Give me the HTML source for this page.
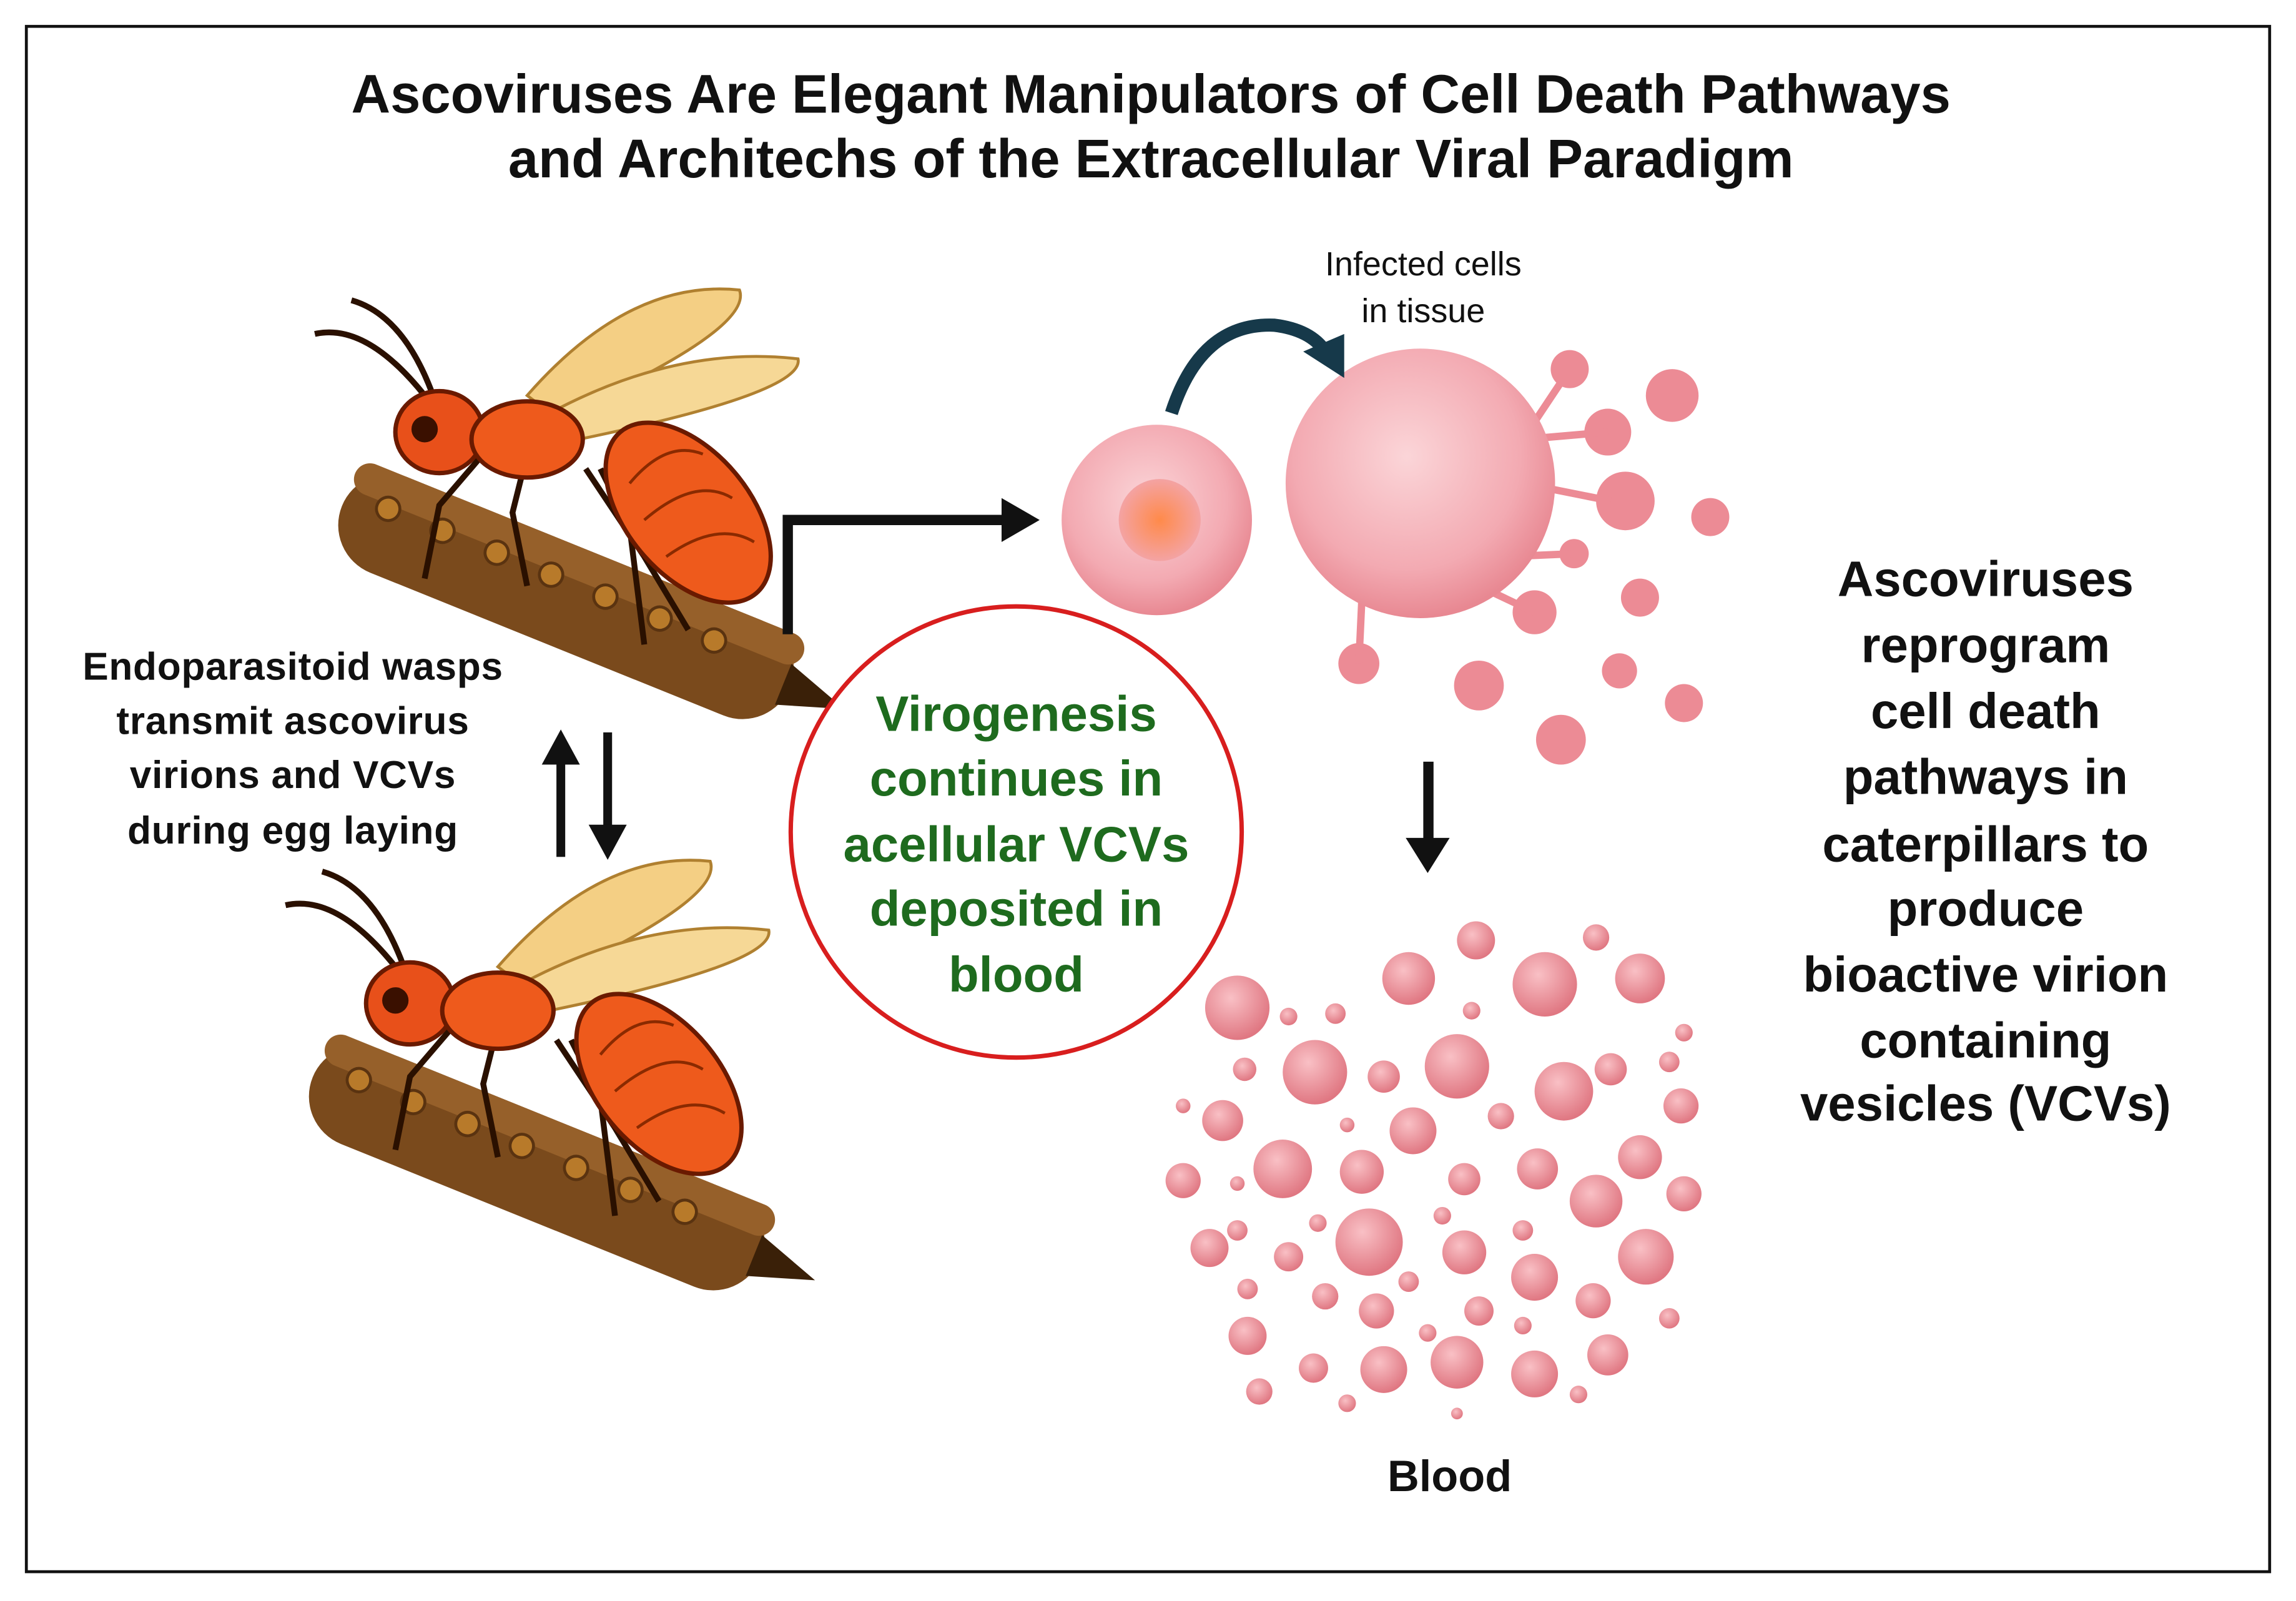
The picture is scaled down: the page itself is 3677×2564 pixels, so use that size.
<!DOCTYPE html>
<html><head><meta charset="utf-8"><style>
html,body{margin:0;padding:0;background:#fff;width:3677px;height:2564px;overflow:hidden}
svg{display:block}
text{font-family:"Liberation Sans",sans-serif;font-weight:bold}
</style></head><body>
<svg width="3677" height="2564" viewBox="0 0 1568 1093" preserveAspectRatio="none" xmlns="http://www.w3.org/2000/svg">
<defs>
<radialGradient id="cell" cx="45%" cy="40%" r="60%"><stop offset="0" stop-color="#fbd5d8"/><stop offset="0.7" stop-color="#f3aab2"/><stop offset="1" stop-color="#e88892"/></radialGradient>
<radialGradient id="nuc" cx="50%" cy="50%" r="50%"><stop offset="0" stop-color="#ff8a4a"/><stop offset="1" stop-color="#f4a3a3"/></radialGradient>
<radialGradient id="dot" cx="40%" cy="35%" r="65%"><stop offset="0" stop-color="#f9c0c5"/><stop offset="1" stop-color="#e07782"/></radialGradient>
<g id="wasp">
 <g transform="rotate(22 380 410)">
  <rect x="220" y="370" width="330" height="70" rx="35" fill="#7a4a1c"/>
  <rect x="220" y="370" width="330" height="22" rx="11" fill="#96602a"/>
  <g fill="#b87a2a" stroke="#5a3310" stroke-width="2">
   <circle cx="250" cy="395" r="8"/><circle cx="290" cy="395" r="8"/><circle cx="330" cy="395" r="8"/><circle cx="370" cy="395" r="8"/><circle cx="410" cy="395" r="8"/><circle cx="450" cy="395" r="8"/><circle cx="490" cy="395" r="8"/>
  </g>
  <polygon points="545,390 590,405 545,420" fill="#3a2008"/>
 </g>
 <path d="M360 270 Q430 190 505 198 Q515 225 380 285Z" fill="#f4cf84" stroke="#b08030" stroke-width="2"/>
 <path d="M370 285 Q460 235 545 245 Q550 268 395 300Z" fill="#f6d896" stroke="#b08030" stroke-width="2"/>
 <g stroke="#2a1000" stroke-width="4" fill="none">
  <path d="M330 310 L300 345 L290 395"/><path d="M360 310 L350 350 L360 400"/><path d="M400 320 L440 380 L470 430"/><path d="M410 320 L430 360 L440 440"/>
 </g>
 <path d="M290 270 Q250 220 215 228 M295 268 Q275 215 240 205" stroke="#2a1000" stroke-width="4" fill="none"/>
 <ellipse cx="300" cy="295" rx="30" ry="28" fill="#e8501a" stroke="#6a1a00" stroke-width="3"/>
 <circle cx="290" cy="293" r="9" fill="#3a1000"/>
 <ellipse cx="360" cy="300" rx="38" ry="26" fill="#ee5a1c" stroke="#6a1a00" stroke-width="3"/>
 <ellipse cx="470" cy="350" rx="42" ry="72" transform="rotate(-40 470 350)" fill="#ee5a1c" stroke="#6a1a00" stroke-width="3"/>
 <g stroke="#8a2a00" stroke-width="2" fill="none">
  <path d="M430 330 Q455 300 480 310"/><path d="M440 355 Q475 325 500 340"/><path d="M455 380 Q490 355 515 370"/>
 </g>
</g>
</defs>
<rect width="1568" height="1093" fill="#fff"/>
<rect x="18" y="18" width="1532" height="1055" fill="none" stroke="#111" stroke-width="2"/>
<text x="786" y="77" font-size="37" text-anchor="middle" fill="#111">Ascoviruses Are Elegant Manipulators of Cell Death Pathways</text>
<text x="786" y="121" font-size="37" text-anchor="middle" fill="#111">and Architechs of the Extracellular Viral Paradigm</text>

<use href="#wasp"/>
<use href="#wasp" transform="translate(-20 390)"/>

<g font-size="26.5" text-anchor="middle" fill="#111" letter-spacing="0.3">
<text x="200" y="464">Endoparasitoid wasps</text>
<text x="200" y="501">transmit ascovirus</text>
<text x="200" y="538">virions and VCVs</text>
<text x="200" y="576">during egg laying</text>
</g>
<rect x="380" y="520" width="6" height="65" fill="#111"/><polygon points="370,522 396,522 383,498" fill="#111"/>
<rect x="412" y="500" width="6" height="65" fill="#111"/><polygon points="402,563 428,563 415,587" fill="#111"/>
<path d="M538 433 L538 355 L690 355" stroke="#111" stroke-width="7" fill="none"/>
<polygon points="684,340 710,355 684,370" fill="#111"/>

<circle cx="694" cy="568" r="154" fill="#fff" stroke="#d81e1e" stroke-width="3"/>
<g font-size="34" text-anchor="middle" fill="#1e6b1e">
<text x="694" y="499">Virogenesis</text>
<text x="694" y="543">continues in</text>
<text x="694" y="588">acellular VCVs</text>
<text x="694" y="632">deposited in</text>
<text x="694" y="677">blood</text>
</g>

<circle cx="790" cy="355" r="65" fill="url(#cell)"/>
<circle cx="792" cy="355" r="28" fill="url(#nuc)"/>
<g fill="#ec8b95">
<circle cx="1072" cy="252" r="13"/><circle cx="1142" cy="270" r="18"/><circle cx="1098" cy="295" r="16"/><circle cx="1110" cy="342" r="20"/>
<circle cx="1168" cy="353" r="13"/><circle cx="1075" cy="378" r="10"/><circle cx="1120" cy="408" r="13"/><circle cx="1048" cy="418" r="15"/>
<circle cx="1106" cy="458" r="12"/><circle cx="1150" cy="480" r="13"/><circle cx="1010" cy="468" r="17"/><circle cx="1066" cy="505" r="17"/><circle cx="928" cy="453" r="14"/>
</g>
<g stroke="#ec8b95" stroke-width="5"><line x1="1040" y1="300" x2="1072" y2="252"/><line x1="1040" y1="330" x2="1100" y2="342"/><line x1="1030" y1="380" x2="1075" y2="378"/><line x1="1010" y1="400" x2="1048" y2="418"/><line x1="930" y1="410" x2="928" y2="453"/><line x1="1040" y1="300" x2="1098" y2="295"/></g>
<circle cx="970" cy="330" r="92" fill="url(#cell)"/>
<path d="M800 282 Q820 220 870 222 Q895 225 905 240" stroke="#16394a" stroke-width="9" fill="none"/>
<polygon points="890,240 918,258 918,228" fill="#16394a"/>
<g font-size="23" text-anchor="middle" fill="#111">
<text x="972" y="188" style="font-weight:normal">Infected cells</text>
<text x="972" y="220" style="font-weight:normal">in  tissue</text>
</g>
<rect x="972" y="520" width="7" height="55" fill="#111"/><polygon points="960,572 990,572 975,596" fill="#111"/>

<g fill="url(#dot)">
<circle cx="1008" cy="642" r="13"/><circle cx="1090" cy="640" r="9"/><circle cx="962" cy="668" r="18"/><circle cx="1055" cy="672" r="22"/><circle cx="1120" cy="668" r="17"/><circle cx="845" cy="688" r="22"/><circle cx="912" cy="692" r="7"/>
<circle cx="1005" cy="690" r="6"/><circle cx="880" cy="694" r="6"/><circle cx="1150" cy="705" r="6"/><circle cx="898" cy="732" r="22"/><circle cx="995" cy="728" r="22"/><circle cx="1100" cy="730" r="11"/><circle cx="945" cy="735" r="11"/><circle cx="850" cy="730" r="8"/><circle cx="1140" cy="725" r="7"/>
<circle cx="835" cy="765" r="14"/><circle cx="1068" cy="745" r="20"/><circle cx="965" cy="772" r="16"/><circle cx="1025" cy="762" r="9"/><circle cx="1148" cy="755" r="12"/><circle cx="808" cy="755" r="5"/><circle cx="920" cy="768" r="5"/>
<circle cx="808" cy="806" r="12"/><circle cx="876" cy="798" r="20"/><circle cx="930" cy="800" r="15"/><circle cx="1000" cy="805" r="11"/><circle cx="1050" cy="798" r="14"/><circle cx="1120" cy="790" r="15"/><circle cx="1150" cy="815" r="12"/><circle cx="845" cy="808" r="5"/>
<circle cx="845" cy="840" r="7"/><circle cx="935" cy="848" r="23"/><circle cx="1090" cy="820" r="18"/><circle cx="1040" cy="840" r="7"/><circle cx="985" cy="830" r="6"/><circle cx="900" cy="835" r="6"/>
<circle cx="826" cy="852" r="13"/><circle cx="880" cy="858" r="10"/><circle cx="1000" cy="855" r="15"/><circle cx="1048" cy="872" r="16"/><circle cx="1124" cy="858" r="19"/><circle cx="962" cy="875" r="7"/>
<circle cx="852" cy="880" r="7"/><circle cx="905" cy="885" r="9"/><circle cx="940" cy="895" r="12"/><circle cx="1010" cy="895" r="10"/><circle cx="1088" cy="888" r="12"/><circle cx="1140" cy="900" r="7"/>
<circle cx="852" cy="912" r="13"/><circle cx="897" cy="934" r="10"/><circle cx="945" cy="935" r="16"/><circle cx="995" cy="930" r="18"/><circle cx="1048" cy="938" r="16"/><circle cx="1098" cy="925" r="14"/><circle cx="1040" cy="905" r="6"/><circle cx="860" cy="950" r="9"/><circle cx="975" cy="910" r="6"/><circle cx="1078" cy="952" r="6"/><circle cx="995" cy="965" r="4"/><circle cx="920" cy="958" r="6"/>
</g>
<text x="990" y="1018" font-size="30" text-anchor="middle" fill="#111">Blood</text>

<g font-size="34" text-anchor="middle" fill="#111">
<text x="1356" y="407">Ascoviruses</text>
<text x="1356" y="452">reprogram</text>
<text x="1356" y="497">cell death</text>
<text x="1356" y="542">pathways in</text>
<text x="1356" y="588">caterpillars to</text>
<text x="1356" y="632">produce</text>
<text x="1356" y="677">bioactive virion</text>
<text x="1356" y="722">containing</text>
<text x="1356" y="765">vesicles (VCVs)</text>
</g>
</svg>
</body></html>
